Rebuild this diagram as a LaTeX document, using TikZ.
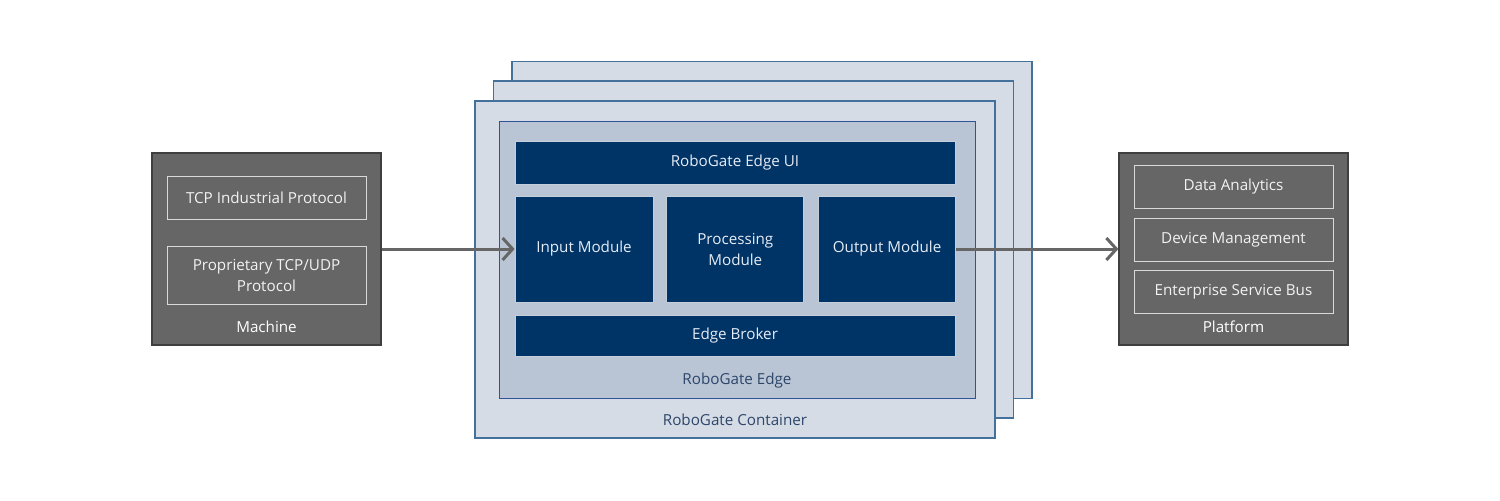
\documentclass[tikz,border=0pt]{standalone}
\usepackage{fontspec}
\setmainfont{Open Sans}
\usepackage{xcolor}
\usetikzlibrary{arrows.meta, positioning}

\definecolor{hostgray}{HTML}{666666}
\definecolor{hostline}{HTML}{3F3F3F}
\definecolor{subline}{HTML}{D9D9D9}
\definecolor{hosttext}{HTML}{F2F2F2}
\definecolor{contfill}{HTML}{D6DCE5}
\definecolor{contline}{HTML}{44709C}
\definecolor{edgefill}{HTML}{B9C5D5}
\definecolor{edgeline}{HTML}{2F5597}
\definecolor{modfill}{HTML}{003366}
\definecolor{modline}{HTML}{C5CEDB}
\definecolor{modtext}{HTML}{E6ECF5}
\definecolor{labtext}{HTML}{2D466A}
\definecolor{flowgray}{HTML}{666666}

\begin{document}
\begin{tikzpicture}[
    x=0.5pt, y=-0.5pt,
    every node/.style={font=\fontsize{7.6}{10.5}\selectfont, inner sep=0pt, align=center},
    hostbox/.style={draw=hostline, line width=0.6pt, fill=hostgray,
                    minimum width=114.5pt, minimum height=96pt},
    subbox/.style={draw=subline, line width=0.5pt, text=hosttext,
                   minimum width=99.5pt, minimum height=21.5pt},
    hostlabel/.style={text=white},
    contbox/.style={draw=contline, line width=0.6pt, fill=contfill,
                    minimum width=260pt, minimum height=168.5pt},
    edgebox/.style={draw=edgeline, line width=0.5pt, fill=edgefill,
                    minimum width=238pt, minimum height=138.5pt},
    modbox/.style={draw=modline, line width=0.4pt, fill=modfill, text=modtext,
                   minimum width=69pt, minimum height=53pt},
    barbox/.style={modbox, minimum width=220pt, minimum height=21.5pt},
    contlabel/.style={text=labtext},
    flow/.style={draw=flowgray, line width=1.5pt,
                 -{Straight Barb[length=5pt, width=11pt]}}
    ]
    \useasboundingbox (0,0) rectangle (1500,500);

    % machine side
    \node[hostbox] (machine) at (266.5,249) {};
    \node[subbox] (tcp) at (266.5,197.5) {TCP Industrial Protocol};
    \node[subbox, minimum height=29pt] (prop) at (266.5,275)
        {Proprietary TCP/UDP\\Protocol};
    \node[hostlabel] (machlab) at (266.5,327) {Machine};

    % stacked containers
    \node[contbox] (contc) at (772,230) {};
    \node[contbox] (contb) at (753.5,249.5) {};
    \node[contbox] (conta) at (735,269.5) {};
    \node[contlabel] (contlab) at (735,420) {RoboGate Container};

    \node[edgebox] (edge) at (737,259.5) {};
    \node[contlabel] (edgelab) at (737,381) {RoboGate Edge};

    \node[barbox] (ui) at (735,162.5) {RoboGate Edge UI};
    \node[modbox] (input) at (584,249) {Input Module};
    \node[modbox, minimum width=68.5pt, right=6.5pt of input] (proc) {Processing\\Module};
    \node[modbox, minimum width=68.5pt, right=7pt of proc] (output) {Output Module};
    \node[barbox, minimum height=20.5pt] (broker) at (735,335.5) {Edge Broker};

    % platform side
    \node[hostbox] (platform) at (1233.5,249) {};
    \node[subbox] (analytics) at (1233.5,186.5) {Data Analytics};
    \node[subbox] (devmgmt) at (1233.5,239.5) {Device Management};
    \node[subbox] (esb) at (1233.5,291.5) {Enterprise Service Bus};
    \node[hostlabel] (platlab) at (1233.5,327) {Platform};

    \draw[flow] (machine) -- (input);
    \draw[flow] (output) -- (platform);
\end{tikzpicture}
\end{document}
